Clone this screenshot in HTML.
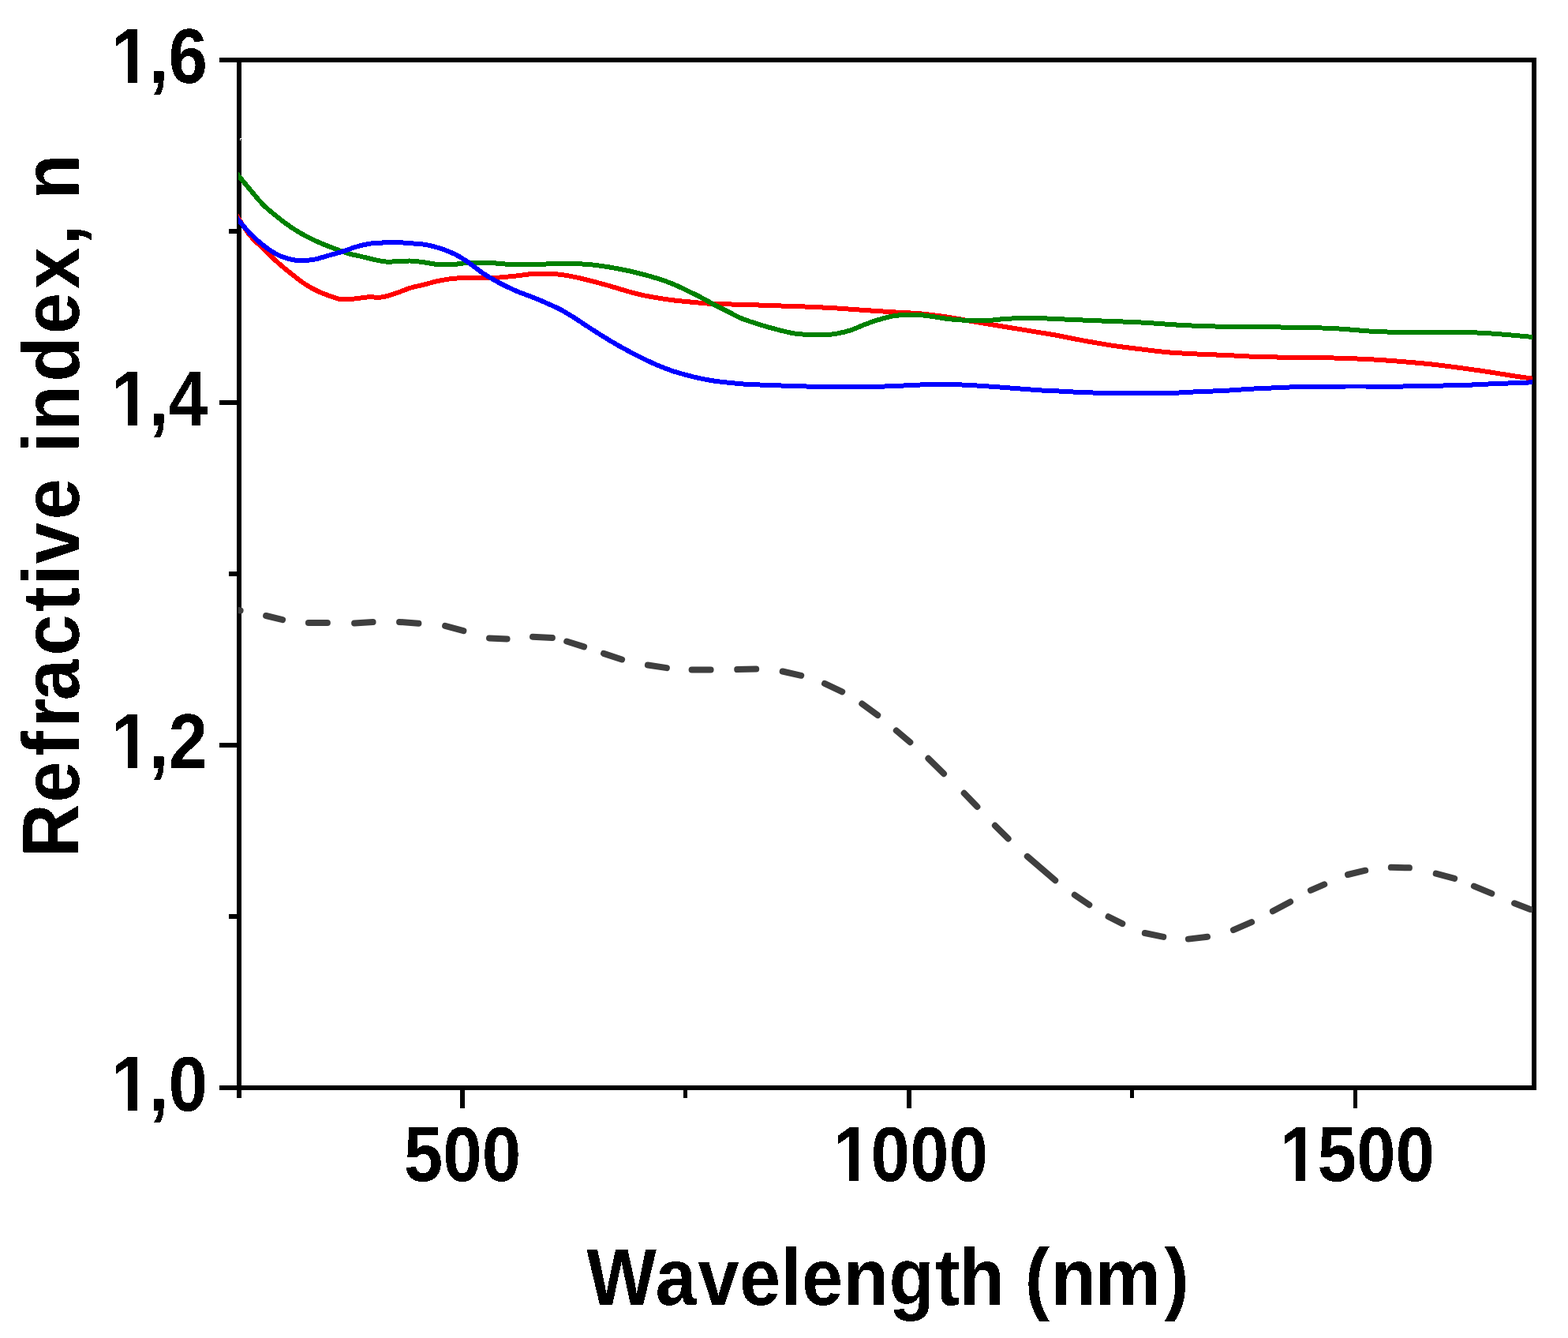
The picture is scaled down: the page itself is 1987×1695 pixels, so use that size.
<!DOCTYPE html>
<html lang="en"><head><meta charset="utf-8"><title>Refractive index vs wavelength</title>
<style>
html,body{margin:0;padding:0;background:#fff;}
body{width:1987px;height:1695px;overflow:hidden;}
svg{display:block;}
text{font-family:"Liberation Sans",sans-serif;font-weight:700;fill:#000;font-kerning:none;}
.tk{font-size:98.7px;}
.ti{font-size:102px;}
.ax{stroke:#000;stroke-width:6;fill:none;shape-rendering:crispEdges;}
.cv{fill:none;stroke-width:6;stroke-linejoin:round;shape-rendering:crispEdges;}
.ds{fill:none;stroke:#3f3f3f;stroke-width:8;stroke-linecap:round;}
</style></head><body>
<svg width="1987" height="1695" viewBox="0 0 1987 1695">
<defs><clipPath id="plot"><rect x="302" y="70" width="1640" height="1320"/></clipPath>
<clipPath id="c1y"><rect x="-400" y="-130.00" width="800" height="119.73"/><rect x="-110.62" y="-10.67" width="13.19" height="11.27"/><rect x="-80.16" y="-130" width="400" height="180"/></clipPath>
<clipPath id="c1x"><rect x="-400" y="-130.00" width="800" height="119.73"/><rect x="-84.09" y="-10.67" width="13.19" height="11.27"/><rect x="-53.63" y="-130" width="400" height="180"/></clipPath>
<filter id="hard" x="-5%" y="-5%" width="110%" height="110%" color-interpolation-filters="sRGB"><feComponentTransfer><feFuncA type="discrete" tableValues="0 1"/></feComponentTransfer></filter></defs>
<rect x="0" y="0" width="1987" height="1695" fill="#fff"/>
<g class="ax">
<rect x="303" y="76" width="1641" height="1302"/>
<line x1="278" y1="76" x2="303" y2="76"/>
<line x1="278" y1="510" x2="303" y2="510"/>
<line x1="278" y1="944" x2="303" y2="944"/>
<line x1="278" y1="1378" x2="303" y2="1378"/>
<line x1="290" y1="293" x2="303" y2="293"/>
<line x1="290" y1="727" x2="303" y2="727"/>
<line x1="290" y1="1161" x2="303" y2="1161"/>
</g>
<g fill="#000" shape-rendering="crispEdges">
<rect x="583" y="1378" width="6" height="26"/>
<rect x="1149" y="1378" width="6" height="26"/>
<rect x="1715" y="1378" width="5" height="26"/>
<rect x="300" y="1378" width="6" height="13"/>
<rect x="866" y="1378" width="5" height="13"/>
<rect x="1432" y="1378" width="5" height="13"/>
</g>
<path d="M304 175h2v1h-1v1.5h-1z" fill="#fff" shape-rendering="crispEdges"/>
<g clip-path="url(#plot)">
<path class="cv" stroke="#ff0000" d="M299.0 271.5C299.7 272.6 300.3 273.8 303.2 278.2C306.1 282.6 311.4 291.7 316.5 297.9C321.6 304.1 328.2 309.8 334.1 315.5C340.0 321.2 345.8 327.1 351.7 332.3C357.6 337.6 363.5 342.4 369.4 347.0C375.3 351.6 381.1 356.4 387.0 360.2C392.9 364.0 398.8 367.1 404.7 369.8C410.6 372.5 417.9 374.9 422.3 376.4C426.7 377.9 426.7 378.6 431.1 379.0C435.5 379.4 442.9 378.9 448.8 378.5C454.7 378.1 460.5 376.8 466.4 376.4C472.3 376.0 478.1 377.2 484.0 376.4C489.9 375.6 495.8 373.5 501.7 371.6C507.6 369.7 513.4 366.8 519.3 365.0C525.2 363.2 531.1 362.1 537.0 360.6C542.9 359.1 548.7 357.4 554.6 356.1C560.5 354.9 566.3 353.8 572.2 353.1C578.1 352.4 584.0 352.2 589.9 352.0C595.8 351.8 601.6 352.0 607.5 352.0C613.4 352.0 619.8 352.2 625.2 352.0C630.6 351.8 634.6 351.4 640.0 350.9C645.4 350.4 651.7 349.8 657.6 349.1C663.5 348.5 667.9 347.4 675.3 347.0C682.6 346.6 692.9 346.4 701.7 347.0C710.5 347.6 717.9 348.8 728.2 350.9C738.5 353.0 751.7 356.5 763.5 359.7C775.3 362.9 790.0 367.6 798.8 370.0C807.6 372.4 810.5 373.1 816.4 374.4C822.3 375.6 828.1 376.5 834.0 377.5C839.9 378.5 845.8 379.4 851.7 380.2C857.6 380.9 863.4 381.4 869.3 382.0C875.2 382.6 881.1 383.2 887.0 383.7C892.9 384.2 895.8 384.6 904.6 385.0C913.4 385.4 925.7 385.4 939.9 385.8C954.1 386.2 975.8 387.0 990.0 387.5C1004.2 388.0 1013.5 388.2 1025.3 388.7C1037.1 389.2 1048.8 389.8 1060.6 390.5C1072.3 391.2 1084.0 392.2 1095.8 393.0C1107.5 393.8 1119.3 394.6 1131.1 395.3C1142.9 396.0 1154.6 396.3 1166.4 397.4C1178.2 398.5 1189.9 400.0 1201.7 401.8C1213.5 403.6 1225.2 406.0 1237.0 408.0C1248.8 410.0 1260.5 411.9 1272.2 413.8C1284.0 415.7 1296.2 417.7 1307.5 419.6C1318.8 421.5 1328.7 422.9 1340.0 425.0C1351.3 427.1 1363.5 429.8 1375.3 431.9C1387.1 434.0 1398.8 436.1 1410.6 437.9C1422.3 439.6 1434.0 441.0 1445.8 442.4C1457.5 443.8 1469.3 445.4 1481.1 446.4C1492.9 447.4 1504.6 447.9 1516.4 448.5C1528.2 449.1 1539.9 449.4 1551.7 449.9C1563.5 450.4 1575.2 451.2 1587.0 451.7C1598.8 452.1 1610.5 452.4 1622.2 452.6C1634.0 452.8 1646.2 452.8 1657.5 452.9C1668.8 453.0 1681.7 453.3 1690.0 453.5C1698.3 453.7 1698.8 453.6 1707.6 454.0C1716.4 454.4 1731.0 454.9 1742.8 455.6C1754.5 456.3 1766.3 457.2 1778.1 458.2C1789.9 459.2 1801.6 460.1 1813.4 461.4C1825.2 462.7 1836.9 464.2 1848.7 465.8C1860.5 467.4 1872.2 469.0 1884.0 470.8C1895.8 472.6 1909.6 474.9 1919.2 476.4C1928.8 477.9 1936.7 478.9 1941.8 479.6C1946.9 480.3 1948.6 480.6 1950.0 480.8"/>
<path class="cv" stroke="#008000" d="M299.0 218.5C299.7 219.4 300.3 220.3 303.2 223.8C306.1 227.3 311.4 233.7 316.5 239.7C321.6 245.7 328.2 254.1 334.1 260.0C340.0 265.9 345.8 270.3 351.7 275.0C357.6 279.7 363.5 284.2 369.4 288.2C375.3 292.2 381.1 295.6 387.0 298.8C392.9 302.0 398.8 304.7 404.7 307.3C410.6 309.9 416.4 312.1 422.3 314.3C428.2 316.6 434.0 319.0 439.9 320.8C445.8 322.6 451.7 323.5 457.6 324.9C463.5 326.3 470.2 328.0 475.2 329.1C480.2 330.2 483.2 331.0 487.6 331.4C492.0 331.8 496.4 331.5 501.7 331.4C507.0 331.2 513.4 330.4 519.3 330.5C525.2 330.6 531.1 331.6 537.0 332.3C542.9 333.1 548.7 334.5 554.6 335.0C560.5 335.5 566.3 335.6 572.2 335.3C578.1 335.0 584.0 333.6 589.9 333.2C595.8 332.8 601.6 332.7 607.5 332.7C613.4 332.7 619.8 332.9 625.2 333.2C630.6 333.5 631.6 334.2 640.0 334.5C648.4 334.8 663.5 335.1 675.3 335.0C687.1 334.9 698.9 334.0 710.6 334.0C722.4 334.0 734.0 334.0 745.8 335.0C757.5 336.0 769.3 337.9 781.1 340.0C792.9 342.1 804.6 344.7 816.4 347.9C828.2 351.1 839.9 354.7 851.7 359.4C863.5 364.1 878.2 371.7 887.0 376.1C895.8 380.5 898.7 382.7 904.6 385.8C910.5 388.9 916.3 391.7 922.2 394.6C928.1 397.6 934.0 401.0 939.9 403.5C945.8 406.0 951.6 407.7 957.5 409.6C963.4 411.5 969.8 413.4 975.2 414.9C980.6 416.4 984.6 417.5 990.0 418.8C995.4 420.1 1001.7 421.7 1007.6 422.6C1013.5 423.5 1019.4 423.7 1025.3 424.0C1031.2 424.3 1037.0 424.6 1042.9 424.4C1048.8 424.2 1054.7 423.6 1060.6 422.6C1066.5 421.6 1072.3 420.1 1078.2 418.2C1084.1 416.3 1089.9 413.3 1095.8 411.1C1101.7 408.9 1107.6 406.8 1113.5 405.0C1119.4 403.2 1125.2 401.5 1131.1 400.5C1137.0 399.5 1142.9 399.0 1148.8 398.8C1154.7 398.6 1160.5 398.7 1166.4 399.1C1172.3 399.5 1178.1 400.6 1184.0 401.4C1189.9 402.2 1195.8 403.4 1201.7 404.1C1207.6 404.8 1213.4 405.1 1219.3 405.5C1225.2 405.9 1231.1 406.3 1237.0 406.4C1242.9 406.4 1248.7 406.2 1254.6 405.8C1260.5 405.4 1266.3 404.5 1272.2 404.1C1278.1 403.7 1284.0 403.4 1289.9 403.2C1295.8 403.0 1299.2 402.5 1307.5 402.7C1315.8 402.9 1325.8 403.5 1340.0 404.1C1354.2 404.7 1375.3 405.7 1392.9 406.4C1410.5 407.1 1428.2 407.6 1445.8 408.5C1463.4 409.4 1481.1 411.1 1498.8 412.0C1516.5 412.9 1534.1 413.4 1551.7 413.8C1569.3 414.2 1587.0 414.1 1604.6 414.3C1622.2 414.5 1643.3 414.7 1657.5 415.0C1671.7 415.3 1681.7 415.7 1690.0 416.1C1698.3 416.5 1698.8 416.7 1707.6 417.3C1716.4 417.9 1731.0 419.4 1742.8 420.0C1754.5 420.6 1766.3 420.7 1778.1 420.8C1789.9 420.9 1801.6 420.8 1813.4 420.8C1825.2 420.8 1836.9 420.6 1848.7 420.8C1860.5 421.0 1872.2 421.4 1884.0 422.1C1895.8 422.8 1909.6 424.1 1919.2 424.9C1928.8 425.7 1936.7 426.5 1941.8 427.0C1946.9 427.5 1948.6 427.7 1950.0 427.8"/>
<path class="cv" stroke="#0000ff" d="M299.0 274.8C299.7 275.7 300.3 276.6 303.2 280.0C306.1 283.4 311.4 290.1 316.5 295.3C321.6 300.5 328.2 306.6 334.1 311.1C340.0 315.7 345.8 319.7 351.7 322.6C357.6 325.6 364.1 327.5 369.4 328.8C374.7 330.1 378.5 330.3 383.5 330.2C388.5 330.1 393.8 329.5 399.4 328.4C405.0 327.3 411.1 325.1 417.0 323.5C422.9 321.9 428.7 320.4 434.6 318.5C440.5 316.6 446.4 314.1 452.3 312.4C458.2 310.7 464.0 309.3 469.9 308.5C475.8 307.7 481.7 307.6 487.6 307.4C493.5 307.2 499.3 307.0 505.2 307.2C511.1 307.4 516.9 307.9 522.8 308.4C528.7 308.9 534.6 309.1 540.5 310.2C546.4 311.2 552.2 312.8 558.1 314.7C564.0 316.6 569.9 318.8 575.8 321.7C581.7 324.6 587.5 328.3 593.4 332.3C599.3 336.3 605.1 341.5 611.0 345.5C616.9 349.5 623.9 353.4 628.7 356.1C633.5 358.9 635.2 359.7 640.0 362.0C644.8 364.3 651.7 367.6 657.6 370.0C663.5 372.4 669.4 374.3 675.3 376.7C681.2 379.1 687.0 381.5 692.9 384.1C698.8 386.7 704.7 389.2 710.6 392.3C716.5 395.4 722.3 399.1 728.2 402.8C734.1 406.5 739.9 410.6 745.8 414.4C751.7 418.2 757.6 422.0 763.5 425.7C769.4 429.4 775.2 432.9 781.1 436.3C787.0 439.7 792.9 442.9 798.8 446.0C804.7 449.1 810.5 452.2 816.4 455.0C822.3 457.8 828.1 460.5 834.0 463.0C839.9 465.5 845.8 467.8 851.7 469.8C857.6 471.8 863.4 473.4 869.3 475.0C875.2 476.6 881.1 478.1 887.0 479.3C892.9 480.6 898.7 481.6 904.6 482.5C910.5 483.4 916.3 484.0 922.2 484.6C928.1 485.2 934.0 485.9 939.9 486.4C945.8 486.8 949.1 486.9 957.5 487.3C965.9 487.7 978.7 488.1 990.0 488.5C1001.3 488.9 1013.5 489.3 1025.3 489.6C1037.1 489.9 1048.8 490.1 1060.6 490.2C1072.3 490.3 1084.0 490.4 1095.8 490.2C1107.5 490.0 1119.3 489.6 1131.1 489.1C1142.9 488.7 1156.1 487.9 1166.4 487.5C1176.7 487.1 1184.1 486.6 1192.9 486.6C1201.7 486.6 1209.0 487.0 1219.3 487.5C1229.6 488.0 1242.8 488.8 1254.6 489.6C1266.4 490.4 1278.1 491.4 1289.9 492.3C1301.7 493.2 1316.9 494.4 1325.2 494.9C1333.5 495.4 1331.7 495.0 1340.0 495.4C1348.3 495.8 1363.5 496.8 1375.3 497.2C1387.1 497.6 1398.8 498.0 1410.6 498.1C1422.3 498.2 1434.0 498.1 1445.8 498.1C1457.5 498.1 1469.3 498.4 1481.1 498.1C1492.9 497.8 1504.6 496.8 1516.4 496.3C1528.2 495.8 1539.9 495.5 1551.7 494.9C1563.5 494.3 1575.2 493.2 1587.0 492.6C1598.8 492.0 1610.5 491.5 1622.2 491.0C1634.0 490.5 1646.2 490.0 1657.5 489.8C1668.8 489.6 1681.7 489.7 1690.0 489.6C1698.3 489.6 1698.8 489.5 1707.6 489.5C1716.4 489.5 1731.0 489.5 1742.8 489.5C1754.5 489.5 1766.3 489.6 1778.1 489.5C1789.9 489.4 1801.6 488.9 1813.4 488.7C1825.2 488.5 1836.9 488.5 1848.7 488.2C1860.5 487.9 1872.2 487.1 1884.0 486.6C1895.8 486.1 1909.6 485.6 1919.2 485.2C1928.8 484.8 1936.7 484.5 1941.8 484.3C1946.9 484.1 1948.6 484.1 1950.0 484.0"/>
<g class="ds">
<line x1="294.0" y1="771.5" x2="304.6" y2="773.5"/>
<line x1="337.1" y1="780.0" x2="358.1" y2="785.1"/>
<line x1="390.9" y1="789.0" x2="414.9" y2="789.0"/>
<line x1="449.1" y1="789.5" x2="472.6" y2="787.9"/>
<line x1="506.1" y1="787.9" x2="530.4" y2="789.7"/>
<line x1="564.1" y1="792.9" x2="587.4" y2="799.1"/>
<line x1="620.0" y1="808.5" x2="642.6" y2="809.4"/>
<line x1="675.0" y1="806.7" x2="699.9" y2="808.1"/>
<line x1="718.2" y1="812.5" x2="740.1" y2="819.4"/>
<line x1="765.0" y1="827.9" x2="788.1" y2="835.5"/>
<line x1="820.9" y1="842.5" x2="844.9" y2="846.1"/>
<line x1="876.6" y1="848.5" x2="900.6" y2="848.5"/>
<line x1="934.2" y1="848.1" x2="958.2" y2="847.5"/>
<line x1="991.7" y1="850.5" x2="1015.2" y2="855.8"/>
<line x1="1045.0" y1="865.9" x2="1067.2" y2="876.3"/>
<line x1="1092.3" y1="891.6" x2="1112.2" y2="906.1"/>
<line x1="1135.8" y1="925.5" x2="1153.3" y2="940.2"/>
<line x1="1176.4" y1="960.8" x2="1196.0" y2="980.2"/>
<line x1="1221.7" y1="1004.8" x2="1238.4" y2="1022.0"/>
<line x1="1260.9" y1="1045.8" x2="1277.6" y2="1062.4"/>
<line x1="1301.8" y1="1084.9" x2="1337.2" y2="1115.3"/>
<line x1="1361.8" y1="1133.8" x2="1380.3" y2="1146.2"/>
<line x1="1404.6" y1="1161.2" x2="1422.3" y2="1170.1"/>
<line x1="1450.8" y1="1182.0" x2="1474.3" y2="1186.9"/>
<line x1="1505.9" y1="1189.6" x2="1530.0" y2="1186.7"/>
<line x1="1563.0" y1="1178.2" x2="1586.1" y2="1168.1"/>
<line x1="1612.9" y1="1154.3" x2="1635.1" y2="1142.5"/>
<line x1="1660.9" y1="1127.9" x2="1678.2" y2="1120.3"/>
<line x1="1708.0" y1="1108.0" x2="1730.2" y2="1102.7"/>
<line x1="1762.8" y1="1098.8" x2="1785.9" y2="1099.3"/>
<line x1="1819.7" y1="1106.7" x2="1843.1" y2="1112.9"/>
<line x1="1867.9" y1="1122.6" x2="1890.3" y2="1131.9"/>
<line x1="1919.1" y1="1144.3" x2="1939.2" y2="1152.0"/>
</g></g>
<g filter="url(#hard)">
<text class="tk" text-anchor="end" clip-path="url(#c1y)" dx="1.77 -1.77" transform="translate(261.4 105) scale(0.902 1)">1,6</text>
<text class="tk" text-anchor="end" clip-path="url(#c1y)" dx="1.77 -1.77" transform="translate(261.4 539) scale(0.902 1)">1,4</text>
<text class="tk" text-anchor="end" clip-path="url(#c1y)" dx="1.77 -1.77" transform="translate(261.4 973) scale(0.902 1)">1,2</text>
<text class="tk" text-anchor="end" clip-path="url(#c1y)" dx="1.77 -1.77" transform="translate(261.4 1407) scale(0.902 1)">1,0</text>
<text class="tk" text-anchor="middle" transform="translate(586 1496) scale(0.902 1)">500</text>
<text class="tk" text-anchor="middle" clip-path="url(#c1x)" dx="1.77 -1.77" transform="translate(1152.20 1496) scale(0.902 1)">1000</text>
<text class="tk" text-anchor="middle" clip-path="url(#c1x)" dx="1.77 -1.77" transform="translate(1718.20 1496) scale(0.902 1)">1500</text>
<text class="ti" dx="0.00 -1.71 1.86 0.24 0.14 0.57 0.48 0.30 1.60 -1.28 0.00 -0.28 1.74 -1.58 4.54" transform="translate(743.29 1652.7) scale(0.9216 1)">Wavelength (nm)</text>
<text class="ti" dx="0.00 1.76 7.32 5.33 -2.90 4.98 3.65 2.48 1.17 3.76 0.00 7.44 1.63 4.97 3.20 5.34 2.91 0.00 6.32" transform="translate(99.8 1086.22) rotate(-90) scale(0.9216 1)">Refractive index, n</text>
</g>
</svg>
</body></html>
